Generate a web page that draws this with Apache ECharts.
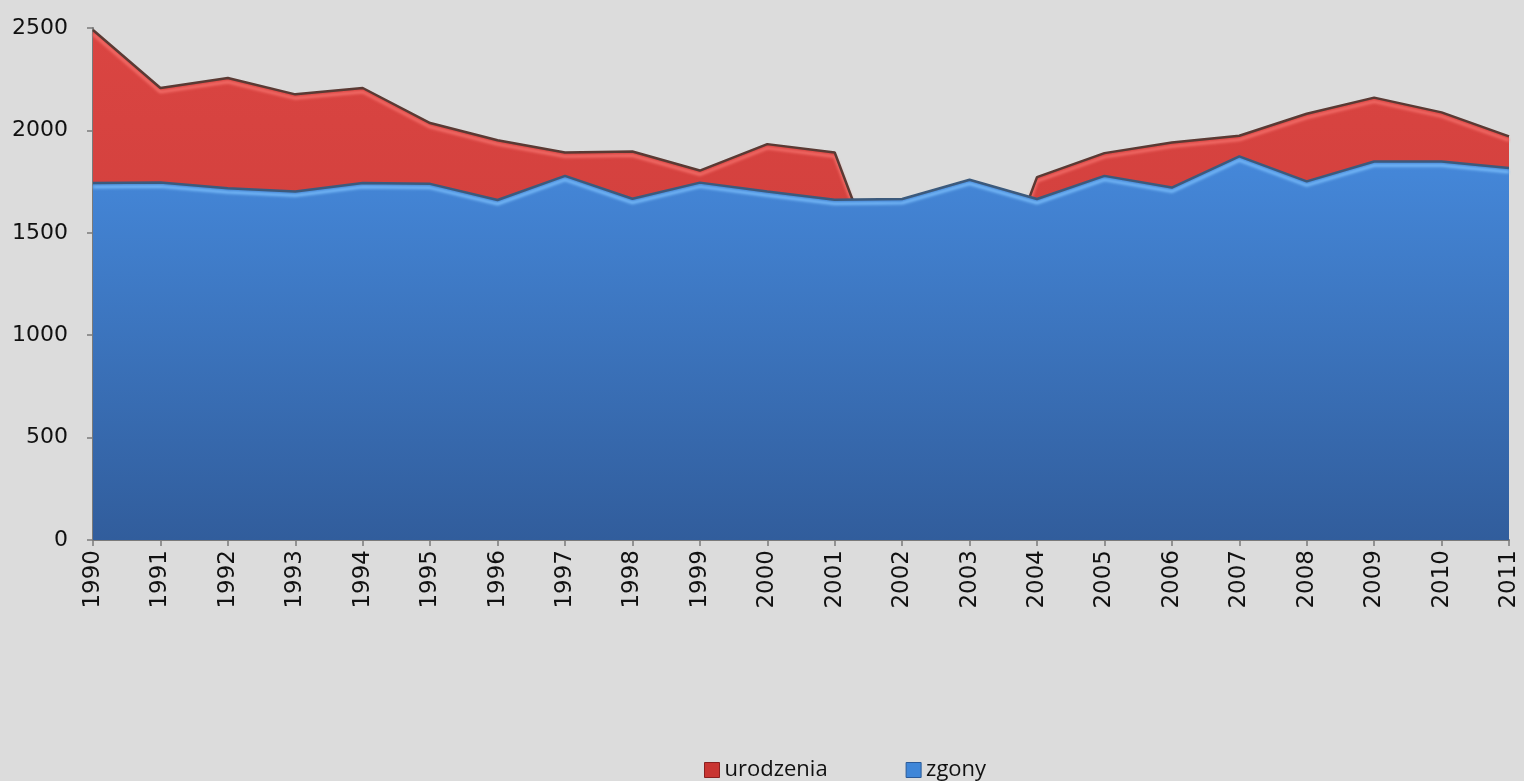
<!DOCTYPE html>
<html lang="pl">

<head>
  <meta charset="UTF-8">
  <title>urodzenia i zgony</title>
  <script src="https://cdn.jsdelivr.net/npm/echarts@6.0.0/dist/echarts.min.js"></script>
  <style>
    html, body { margin: 0; padding: 0; background: #dcdcdc; }
    #chart { width: 1524px; height: 781px; }
  </style>
</head>

<body>
  <div id="chart"></div>
  <script>
    let years = ['1990', '1991', '1992', '1993', '1994', '1995', '1996', '1997', '1998', '1999', '2000',
      '2001', '2002', '2003', '2004', '2005', '2006', '2007', '2008', '2009', '2010', '2011'];

    let urodzenia = [2490, 2207, 2256, 2176, 2207, 2036, 1952, 1892, 1897, 1804, 1933,
      1892, 1020, 890, 1772, 1889, 1941, 1974, 2081, 2160, 2088, 1971];

    let zgony = [1743, 1746, 1718, 1702, 1743, 1739, 1660, 1778, 1666, 1745, 1702,
      1661, 1665, 1759, 1665, 1778, 1721, 1873, 1751, 1848, 1848, 1816];

    let yTicks = [0, 500, 1000, 1500, 2000, 2500];
  </script>
  <script>
    let chart = echarts.init(document.getElementById('chart'));

    let option = {
      backgroundColor: '#dcdcdc',
      animation: false,
      grid: { left: 93, right: 15, top: 28, bottom: 241 },
      legend: {
        left: 699,
        top: 754,
        itemWidth: 15,
        itemHeight: 15,
        itemGap: 78,
        textStyle: { fontFamily: 'Open Sans', fontSize: 22, color: '#111' },
        data: [
          { name: 'urodzenia', icon: 'rect', itemStyle: { color: '#c93532', borderColor: '#8a2020', borderWidth: 1 } },
          { name: 'zgony', icon: 'rect', itemStyle: { color: '#3f86d8', borderColor: '#2a5a99', borderWidth: 1 } }
        ]
      },
      xAxis: {
        type: 'category',
        boundaryGap: false,
        data: years,
        axisLine: { lineStyle: { color: '#7a7a7a', width: 2 } },
        axisTick: { show: true, length: 6, lineStyle: { color: '#7a7a7a', width: 1.5 } },
        axisLabel: {
          rotate: 90,
          margin: 10,
          fontFamily: 'DejaVu Sans',
          fontSize: 23,
          color: '#111',
          interval: 0
        },
        splitLine: { show: false }
      },
      yAxis: {
        type: 'value',
        min: yTicks[0],
        max: yTicks[yTicks.length - 1],
        interval: 500,
        axisLine: { show: true, lineStyle: { color: '#7a7a7a', width: 2 } },
        axisTick: { show: true, length: 6, lineStyle: { color: '#7a7a7a', width: 1.5 } },
        axisLabel: {
          margin: 25,
          fontFamily: 'DejaVu Sans',
          fontSize: 22,
          color: '#111',
          formatter: v => String(v)
        },
        splitLine: { show: false }
      },
      series: [
        {
          type: 'line',
          name: 'urodzenia',
          z: 2,
          data: urodzenia,
          symbol: 'none',
          lineStyle: {
            color: '#5a3a34',
            width: 2.5,
            shadowColor: '#f87570',
            shadowBlur: 3,
            shadowOffsetY: 4
          },
          itemStyle: { color: '#d6423f' },
          areaStyle: {
            color: new echarts.graphic.LinearGradient(0, 0, 0, 1, [
              { offset: 0, color: '#da4542' },
              { offset: 1, color: '#c93a37' }
            ]),
            opacity: 1
          }
        },
        {
          type: 'line',
          name: 'zgony',
          z: 3,
          data: zgony,
          symbol: 'none',
          lineStyle: {
            color: '#3c5a7c',
            width: 2.5,
            shadowColor: '#80c4ff',
            shadowBlur: 3,
            shadowOffsetY: 4
          },
          itemStyle: { color: '#4388d8' },
          areaStyle: {
            color: new echarts.graphic.LinearGradient(0, 0, 0, 1, [
              { offset: 0, color: '#4588da' },
              { offset: 1, color: '#315d9c' }
            ]),
            origin: 'start',
            opacity: 1
          }
        }
      ]
    };

    chart.setOption(option);
  </script>
</body>

</html>
